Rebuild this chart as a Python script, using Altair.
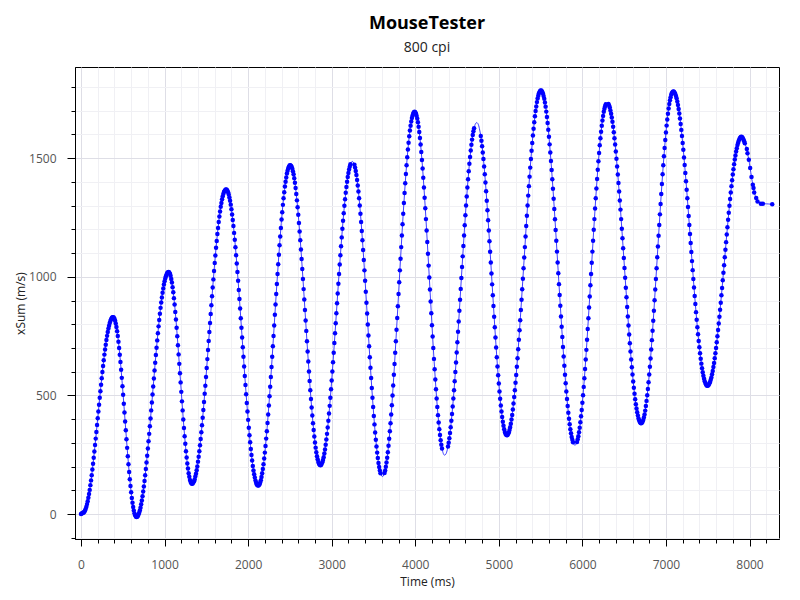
import altair as alt
import pandas as pd

# ---- data (xSum in m/s, one sample every 8 ms; None = no sample recorded) ----
SAMPLE_MS = 8

xsum_0000 = [0, 2, 4, 6, 7, 10, 15, 22, 31, 42, 54, 69, 85, 102, 122, 142, 164, 188, 212, 237,
             264, 291, 318, 346, 375, 404, 432, 461, 490, 518, 545, 572, 599, 624, 648, 672, 694,
             714, 734, 751, 767, 782, 794, 805, 814, 821, 826, 829, 830]
xsum_0392 = [828, 823, 815, 803, 788, 770, 750, 726, 700, 671, 641, 608, 574, 539, 503, 465, 428,
             390, 353, 315, 279, 244, 210, 177, 147, 118, 92, 68, 48, 30, 15, 3, -5, -10, -12]
xsum_0672 = [-11, -8, -2, 6, 15, 27, 41, 57, 75, 95, 116, 139, 164, 190, 217, 246, 276, 307, 338,
             370, 403, 437, 470, 504, 538, 571, 605, 638, 670, 701, 732, 762, 791, 818, 844, 869,
             892, 913, 933, 951, 967, 981, 993, 1002, 1010, 1016, 1019, 1020]
xsum_1056 = [1018, 1013, 1004, 991, 976, 956, 935, 910, 883, 852, 820, 785, 749, 711, 673, 633,
             593, 555, 515, 475, 437, 399, 363, 328, 296, 265, 238, 213, 192, 172, 157, 144, 135,
             130, 128]
xsum_1336 = [129, 133, 138, 146, 158, 170, 185, 201, 221, 242, 265, 290, 316, 345, 374, 406, 439,
             472, 507, 541, 578, 616, 653, 691, 729, 767, 805, 843, 880, 918, 955, 989, 1024,
             1058, 1090, 1122, 1151, 1180, 1206, 1231, 1254, 1275, 1295, 1311, 1327, 1339, 1350,
             1358, 1363, 1367, 1368]
xsum_1744 = [1367, 1363, 1356, 1347, 1334, 1320, 1304, 1285, 1262, 1239, 1214, 1185, 1156, 1124,
             1091, 1056, 1020, 983, 944, 906, 866, 825, 785, 744, 703, 663, 622, 582, 544, 505,
             468, 432, 397, 364, 332, 303, 274, 249, 226, 203, 184, 168, 154, 141, 132, 125, 121,
             120]
xsum_2128 = [121, 126, 133, 143, 156, 172, 190, 210, 234, 259, 287, 318, 349, 384, 420, 458, 497,
             537, 578, 620, 663, 707, 750, 795, 840, 883, 927, 970, 1012, 1053, 1093, 1133, 1170,
             1206, 1241, 1272, 1303, 1331, 1356, 1380, 1400, 1418, 1435, 1447, 1457, 1464, 1469,
             1470]
xsum_2512 = [1468, 1464, 1456, 1445, 1432, 1415, 1396, 1374, 1349, 1322, 1293, 1261, 1227, 1191,
             1154, 1115, 1075, 1033, 991, 948, 904, 860, 816, 772, 728, 685, 643, 601, 561, 522,
             485, 449, 415, 383, 354, 327, 302, 280, 261, 244, 231, 220, 212, 208, 206]
xsum_2872 = [207, 212, 218, 228, 240, 255, 272, 292, 314, 338, 365, 393, 424, 456, 490, 526, 563,
             601, 640, 680, 721, 762, 804, 846, 888, 930, 971, 1012, 1052, 1091, 1129, 1166, 1202,
             1236, 1268, 1299, 1327, 1354, 1378, 1400, 1420, 1437, 1452, 1464, 1474, 1480, 1485,
             1486]
xsum_3256 = [1484, 1479, 1472, 1460, 1446, 1429, 1408, 1385, 1359, 1331, 1300, 1266, 1231, 1193,
             1154, 1113, 1071, 1027, 983, 937, 891, 845, 799, 753, 707, 661, 617, 573, 531, 490,
             451, 413, 378, 344, 313, 285, 259, 236, 215, 198, 184, 172, 165, 160, 158]
xsum_3616 = [160, 165, 173, 184, 199, 217, 237, 261, 288, 317, 349, 383, 420, 459, 500, 542, 587,
             632, 680, 728, 777, 826, 876, 927, 977, 1027, 1076, 1125, 1174, 1221, 1266, 1311,
             1353, 1394, 1433, 1470, 1504, 1536, 1565, 1592, 1616, 1636, 1654, 1669, 1680, 1688,
             1693, 1695]
xsum_4000 = [1693, 1688, 1679, 1667, 1651, 1632, 1610, 1585, 1557, 1526, 1492, 1456, 1417, 1376,
             1333, 1289, 1243, 1195, 1147, 1097, 1047, 997, 946, 896, 846, 796, 748, 700, 654, 610,
             567, 526, 487, 451, 417, 386, 358, 333, 311, 292, 276, 264, 255, 250, 248]
xsum_4360 = [250, 254, 261, 272, 285, 301, 320, 342, 366, 393, 422, 453, 487, 522, 560, 599,
             639, 681, 724, 768, 812, 857, 903, 949, 995, 1041, 1086, 1130, 1174, 1217, 1259, 1300,
             1338, 1376, 1411, 1445, 1476, 1505, 1532, 1556, 1578, 1597, 1613, 1626, 1637, 1644,
             1648, 1650]
xsum_4744 = [1648, 1644, 1636, 1624, 1610, 1593, 1573, 1550, 1524, 1496, 1465, 1432, 1397, 1360,
             1320, 1280, 1238, 1195, 1150, 1105, 1060, 1014, 968, 922, 877, 832, 787, 744, 702,
             661, 622, 585, 550, 517, 486, 458, 432, 409, 389, 372, 358, 346, 338, 334, 332]
xsum_5104 = [333, 338, 344, 354, 366, 381, 399, 418, 441, 466, 493, 522, 553, 586, 621, 657, 695,
             735, 775, 817, 860, 903, 947, 992, 1036, 1081, 1125, 1170, 1214, 1257, 1300, 1342,
             1382, 1422, 1460, 1496, 1531, 1564, 1595, 1624, 1651, 1676, 1699, 1718, 1736, 1751,
             1763, 1773, 1779, 1784, 1785]
xsum_5512 = [1784, 1779, 1772, 1762, 1750, 1734, 1717, 1696, 1673, 1648, 1620, 1590, 1558, 1524,
             1488, 1450, 1411, 1371, 1329, 1286, 1242, 1197, 1152, 1106, 1060, 1015, 969, 923, 878,
             833, 789, 746, 704, 664, 625, 587, 551, 517, 485, 455, 427, 402, 379, 358, 341, 325,
             313, 303, 296, 291, 290]
xsum_5920 = [292, 296, 304, 315, 328, 345, 364, 387, 412, 439, 469, 501, 536, 572, 611, 651, 692,
             735, 780, 825, 871, 917, 964, 1012, 1059, 1106, 1152, 1198, 1243, 1288, 1331, 1372,
             1412, 1451, 1487, 1522, 1554, 1584, 1611, 1636, 1659, 1678, 1695, 1708, 1719, 1727,
             1731, 1733]
xsum_6304 = [1732, 1728, 1722, 1713, 1701, 1687, 1671, 1653, 1632, 1609, 1584, 1557, 1528, 1497,
             1465, 1431, 1395, 1359, 1321, 1283, 1243, 1202, 1162, 1120, 1079, 1037, 996, 954, 914,
             873, 833, 795, 757, 720, 685, 651, 619, 588, 559, 532, 507, 484, 463, 445, 429, 415,
             403, 394, 388, 384, 383]
xsum_6712 = [385, 389, 396, 407, 420, 436, 455, 477, 501, 527, 556, 588, 621, 656, 694, 733, 773,
             815, 857, 901, 946, 991, 1036, 1082, 1128, 1173, 1218, 1263, 1307, 1349, 1391, 1432,
             1470, 1508, 1543, 1576, 1608, 1637, 1663, 1687, 1709, 1728, 1744, 1757, 1768, 1775,
             1779, 1781]
xsum_7096 = [1780, 1776, 1770, 1762, 1752, 1739, 1724, 1707, 1688, 1667, 1644, 1619, 1593, 1564,
             1535, 1503, 1471, 1437, 1403, 1367, 1331, 1294, 1256, 1218, 1180, 1142, 1104, 1066,
             1028, 991, 955, 919, 885, 851, 819, 787, 758, 729, 703, 678, 655, 634, 615, 598, 583,
             570, 560, 552, 546, 542, 541]
xsum_7504 = [542, 545, 550, 557, 566, 576, 589, 603, 620, 637, 657, 678, 700, 724, 749, 776, 803,
             832, 861, 891, 922, 953, 985, 1017, 1049, 1082, 1114, 1146, 1178, 1209, 1240, 1270,
             1299, 1328, 1355, 1382, 1407, 1431, 1453, 1474, 1494, 1511, 1528, 1542, 1555, 1565,
             1574, 1581, 1586, 1589, 1590]
xsum_7912 = [1588, 1584, 1578, 1571, 1563, None, None, 1538, 1521, None, 1493, None, 1458, None,
             1420, None, 1388, 1374, 1355, None, None, 1332, None, 1317, None, None, None, None,
             1308, None, None, 1308, None, None, None, None, None, None, None, None, None, None,
             None, None, None, 1306]

segments = [xsum_0000, xsum_0392, xsum_0672, xsum_1056, xsum_1336, xsum_1744, xsum_2128,
            xsum_2512, xsum_2872, xsum_3256, xsum_3616, xsum_4000, xsum_4360, xsum_4744,
            xsum_5104, xsum_5512, xsum_5920, xsum_6304, xsum_6712, xsum_7096, xsum_7504,
            xsum_7912]

# time spans (ms) where the curve is drawn but no marker is shown
no_marker_ms = [(3232, 3264), (3592, 3624), (4328, 4384), (4712, 4776), (5896, 5928),
                (6288, 6304)]

x_ticks = list(range(0, 8201, 200))
y_ticks = list(range(-100, 1801, 100))
x_domain = [-72, 8353]
y_domain = [-105, 1884]

samples = [v for seg in segments for v in seg]
rows = []
for i, v in enumerate(samples):
    if v is None:
        continue
    t = i * SAMPLE_MS
    marked = not any(a <= t <= b for a, b in no_marker_ms)
    rows.append({"t": t, "v": v, "marked": marked})
df = pd.DataFrame(rows)

FONT = "Open Sans"

x_axis = alt.Axis(
    values=x_ticks,
    format="d",
    labelExpr="datum.value % 1000 === 0 ? datum.label : ''",
    labelOverlap=False,
    labelFlush=False,
    labelPadding=13,
    titlePadding=6,
    tickSize={"condition": {"test": "datum.value % 1000 === 0", "value": 7}, "value": 4},
    gridColor={"condition": {"test": "datum.value % 1000 === 0", "value": "#dedee6"},
               "value": "#f0f0f4"},
    title="Time (ms)",
)
y_axis = alt.Axis(
    values=y_ticks,
    format="d",
    labelExpr="datum.value % 500 === 0 ? datum.label : ''",
    labelOverlap=False,
    labelFlush=False,
    labelPadding=11,
    titlePadding=1,
    tickSize={"condition": {"test": "datum.value % 500 === 0", "value": 8}, "value": 4},
    gridColor={"condition": {"test": "datum.value % 500 === 0", "value": "#dedee6"},
               "value": "#f0f0f4"},
    title="xSum (m/s)",
)

enc_x = alt.X("t:Q", scale=alt.Scale(domain=x_domain, nice=False, zero=False), axis=x_axis)
enc_y = alt.Y("v:Q", scale=alt.Scale(domain=y_domain, nice=False, zero=False), axis=y_axis)

line = alt.Chart(df).mark_line(
    interpolate="cardinal", color="#2a2aff", strokeWidth=1, opacity=0.9
).encode(x=enc_x, y=enc_y)

points = (
    alt.Chart(df)
    .transform_filter("datum.marked")
    .mark_circle(color="#0000ff", size=20, opacity=1)
    .encode(x=enc_x, y=enc_y)
)

chart = (
    alt.layer(line, points)
    .properties(
        width=704,
        height=472,
        autosize="none",
        padding={"left": 75, "top": 67, "right": 21, "bottom": 61},
        title=alt.TitleParams(
            "MouseTester",
            subtitle="800 cpi",
            font=FONT,
            fontSize=18,
            fontWeight="bold",
            color="#000000",
            subtitleFont=FONT,
            subtitleFontSize=14,
            subtitleColor="#222222",
            subtitlePadding=8,
            anchor="middle",
            offset=12,
        ),
    )
    .configure_view(stroke="#000000", strokeWidth=1)
    .configure_axis(
        domainColor="#000000",
        domainWidth=1,
        tickColor="#000000",
        tickWidth=1,
        gridWidth=1,
        labelFont=FONT,
        labelFontSize=12,
        labelColor="#555555",
        titleFont=FONT,
        titleFontSize=12,
        titleFontWeight="normal",
        titleColor="#222222",
    )
)

chart.save("out.html", embed_options={"renderer": "svg", "actions": False})
